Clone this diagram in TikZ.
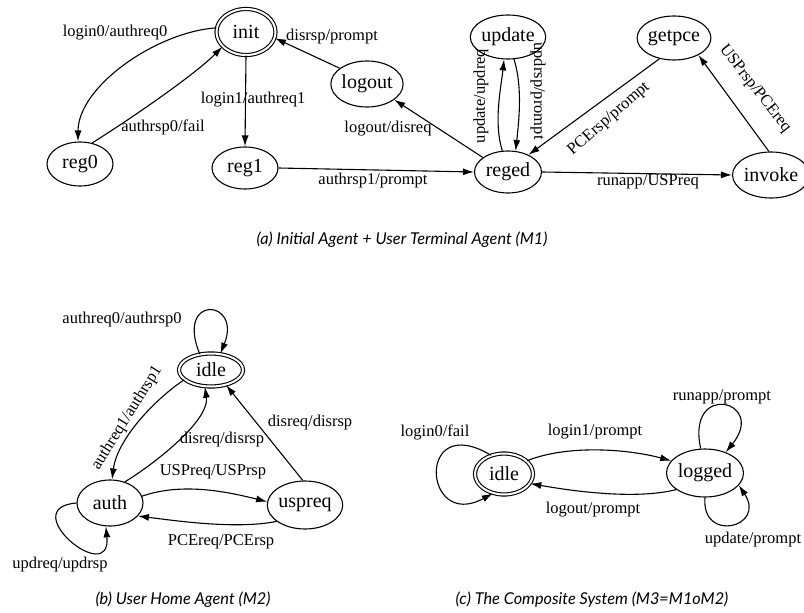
\documentclass[tikz,border=0pt]{standalone}
\usepackage{fontspec}
\setmainfont{Liberation Serif}
\newfontfamily\capfont{Lato}
\usetikzlibrary{shapes.geometric,arrows.meta}
\begin{document}
\begin{tikzpicture}[x=1pt,y=-1pt,
  st/.style={ellipse,draw,line width=1.1pt,inner sep=0pt,font=\fontsize{20}{22}\selectfont},
  acc/.style={st,double,double distance=2pt},
  lbl/.style={font=\fontsize{16.5}{18}\selectfont,inner sep=0pt},
  captxt/.style={font=\capfont\itshape\fontsize{16.3}{18}\selectfont,inner sep=0pt},
  tr/.style={-{Latex[length=11pt,width=7pt]},line width=1.1pt}]
\useasboundingbox (0,0) rectangle (804,613);

% ---------------- (a) ----------------
\node[acc,minimum width=59pt,minimum height=46pt] (init) at (246,32) {init};
\node[st,minimum width=66pt,minimum height=44pt] (reg0) at (80,164) {reg0};
\node[st,minimum width=66pt,minimum height=42pt] (reg1) at (245,168) {reg1};
\node[st,minimum width=64pt,minimum height=46pt] (logout) at (367,84) {logout};
\node[st,minimum width=62pt,minimum height=44pt] (update) at (508,37) {update};
\node[st,minimum width=68pt,minimum height=44pt] (getpce) at (674,38) {getpce};
\node[st,minimum width=67pt,minimum height=42pt] (reged) at (508,172) {reged};
\node[st,minimum width=64pt,minimum height=46pt] (invoke) at (771,175) {invoke};

\draw[tr] (init.172) .. controls +(-60,4) and +(0,-55) .. (reg0.95);
\draw[tr] (reg0.60) .. controls +(35,-22) and +(-30,30) .. (init.212);
\draw[tr] (init.south) -- (reg1.north);
\draw[tr] (reg1.east) -- (reged.west);
\draw[tr] (reged.150) -- (logout.-30);
\draw[tr] (logout.150) -- (init.-12);
\draw[tr] (reged.105) .. controls +(-9,-28) and +(-3,28) .. (update.-100);
\draw[tr] (update.-75) .. controls +(9,28) and +(3,-28) .. (reged.70);
\draw[tr] (getpce.-125) -- (reged.40);
\draw[tr] (invoke.95) -- (getpce.-35);
\draw[tr] (reged.east) -- (invoke.west);

\node[lbl] (l1) at (115,33) {login0/authreq0};
\node[lbl] (l2) at (163,127) {authrsp0/fail};
\node[lbl] (l3) at (253,100) {login1/authreq1};
\node[lbl] (l4) at (373,181) {authrsp1/prompt};
\node[lbl] (l5) at (388,129) {logout/disreq};
\node[lbl] (l6) at (332,37) {disrsp/prompt};
\node[lbl,rotate=90] (l7) at (481,96) {update/updreq};
\node[lbl,rotate=-90] (l8) at (538,91) {updrsp/prompt};
\node[lbl,rotate=41] (l9) at (609,119) {PCErsp/prompt};
\node[lbl,rotate=-52] (l10) at (755,89) {USPrsp/PCEreq};
\node[lbl] (l11) at (648,182) {runapp/USPreq};

\node[captxt] (capa) at (402,240) {(a) Initial Agent + User Terminal Agent (M1)};

% ---------------- (b) ----------------
\node[acc,minimum width=64pt,minimum height=33pt] (idleb) at (211,370) {idle};
\node[st,minimum width=66pt,minimum height=46pt] (auth) at (110,503) {auth};
\node[st,minimum width=60pt,minimum height=48pt] (uspreq) at (305,505) {uspreq};

\draw[tr] (idleb.125) .. controls +(-25,-60) and +(22,-55) .. (idleb.60);
\draw[tr] (idleb.200) .. controls +(-30,20) and +(5,-40) .. (auth.85);
\draw[tr] (auth.55) .. controls +(25,-15) and +(5,35) .. (idleb.-110);
\draw[tr] (uspreq.95) -- (idleb.-45);
\draw[tr] (auth.12) .. controls +(40,-14) and +(-40,-10) .. (uspreq.175);
\draw[tr] (uspreq.-150) .. controls +(-40,8) and +(40,5) .. (auth.-25);
\draw[tr] (auth.180) .. controls +(-62,5) and +(6,62) .. (auth.-100);

\node[lbl] (m1) at (122,320) {authreq0/authrsp0};
\node[lbl,rotate=58] (m2) at (127,418) {authreq1/authrsp1};
\node[lbl] (m3) at (222,440) {disreq/disrsp};
\node[lbl] (m4) at (310,423) {disreq/disrsp};
\node[lbl] (m5) at (213,472) {USPreq/USPrsp};
\node[lbl] (m6) at (221,542) {PCEreq/PCErsp};
\node[lbl] (m7) at (60,565) {updreq/updrsp};

\node[captxt] (capb) at (183,600) {(b) User Home Agent (M2)};

% ---------------- (c) ----------------
\node[acc,minimum width=58pt,minimum height=41pt] (idlec) at (504,474) {idle};
\node[st,minimum width=66pt,minimum height=48pt] (logged) at (705,473) {logged};

\draw[tr] (idlec.125) .. controls +(-75,-45) and +(-70,38) .. (idlec.-120);
\draw[tr] (idlec.30) .. controls +(40,-16) and +(-45,-12) .. (logged.160);
\draw[tr] (logged.-150) .. controls +(-40,10) and +(45,8) .. (idlec.-20);
\draw[tr] (logged.100) .. controls +(-15,-68) and +(42,-52) .. (logged.45);
\draw[tr] (logged.-90) .. controls +(-4,46) and +(28,42) .. (logged.-20);

\node[lbl] (n1) at (435,432) {login0/fail};
\node[lbl] (n2) at (595,432) {login1/prompt};
\node[lbl] (n3) at (593,510) {logout/prompt};
\node[lbl] (n4) at (722,397) {runapp/prompt};
\node[lbl] (n5) at (753,540) {update/prompt};

\node[captxt] (capc) at (592,600) {(c) The Composite System (M3=M1oM2)};
\end{tikzpicture}
\end{document}
